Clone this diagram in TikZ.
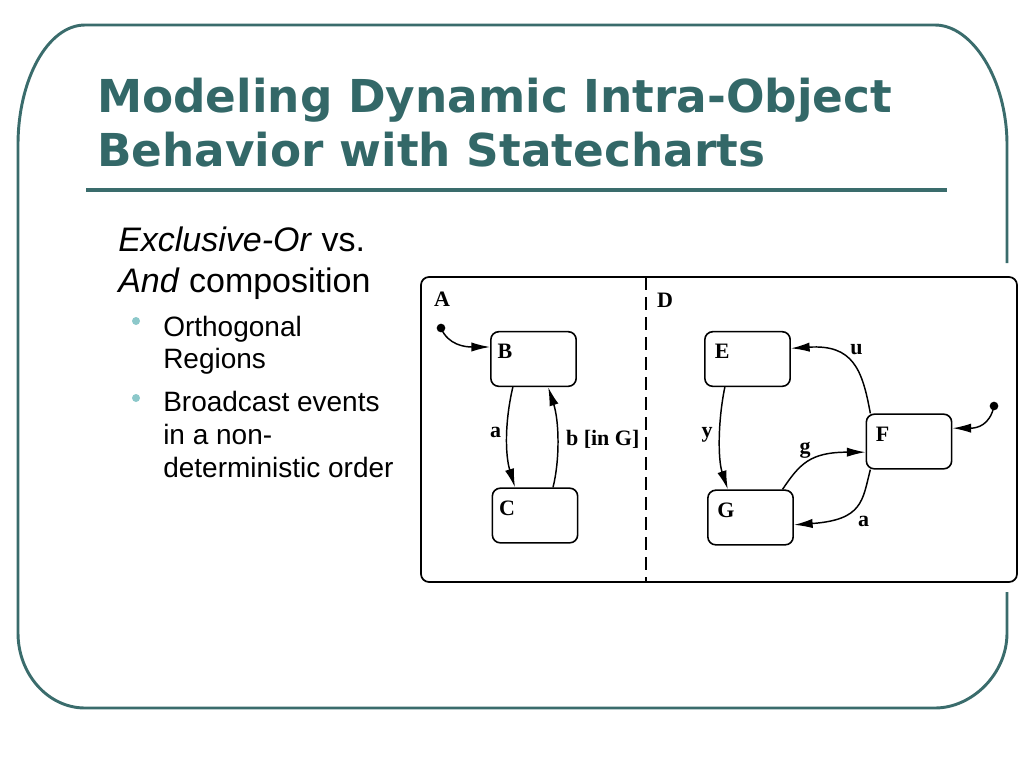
\documentclass[tikz,border=0pt]{standalone}
\usepackage{fontspec}
\setmainfont{Liberation Sans}
\newfontfamily\headfont{DejaVu Sans}
\newfontfamily\chartfont{Liberation Serif}
\usetikzlibrary{arrows.meta,positioning}
\definecolor{frameteal}{HTML}{3A6C6C}
\definecolor{titleteal}{HTML}{336868}
\definecolor{bulletteal}{HTML}{8CC8CA}
\tikzset{
  heading/.style={anchor=base west,inner sep=0pt,text=titleteal,
    font=\headfont\bfseries\fontsize{34}{40}\selectfont},
  bodytext/.style={anchor=base west,inner sep=0pt,font=\fontsize{25.5}{30}\selectfont},
  bullettext/.style={anchor=base west,inner sep=0pt,font=\fontsize{21}{25}\selectfont},
  bulletdot/.style={circle,fill=bulletteal,inner sep=0pt,minimum size=6pt},
  tlabel/.style={inner sep=0pt,font=\chartfont\bfseries\fontsize{16.5}{18}\selectfont},
  stateblock/.style={draw,line width=1.2pt,rounded corners=6pt,inner sep=0pt,
    minimum width=64pt,minimum height=41pt},
  statename/.style={tlabel,anchor=north west,xshift=#1,yshift=-10pt},
  initdot/.style={circle,fill,inner sep=0pt,minimum size=6.5pt},
  trans/.style={-{Latex[length=14pt,width=7pt]},line width=1.1pt}}

\begin{document}
\begin{tikzpicture}[x=0.75pt,y=-0.75pt]
\useasboundingbox (0,0) rectangle (1024,768);
% slide frame, open where the chart covers it
\draw[frameteal,line width=2.2pt] (1007,263) -- (1007,145)
  .. controls (1007,79) and (972,25) .. (935,25) -- (85,25)
  .. controls (48,25) and (18,79) .. (18,145) -- (18,633)
  .. controls (18,674) and (48,708) .. (85,708) -- (935,708)
  .. controls (972,708) and (1007,674) .. (1007,633) -- (1007,592);
\node[heading] (title1) at (97,112) {Modeling Dynamic Intra-Object};
\node[heading] (title2) at (97,166) {Behavior with Statecharts};
\draw[frameteal,line width=3pt] (86,190) -- (947,190);
% text column
\node[bodytext] (intro1) at (118,251) {\textit{Exclusive-Or} vs.};
\node[bodytext] (intro2) at (118,292) {\textit{And} composition};
\node[bulletdot] (dot1) at (136,321) {};
\node[bulletdot] (dot2) at (136,398) {};
\foreach \y/\txt in {336/Orthogonal,368/Regions,411/Broadcast events,
  444/in a non-,477/deterministic order}
  \node[bullettext] (line\y) at (163,\y) {\txt};
% statechart
\draw[line width=1.3pt,rounded corners=6pt] (421,277) rectangle (1017,582);
\draw[line width=1.3pt,dash pattern=on 9.5pt off 5.5pt] (646,277) -- (646,582);
\node[tlabel] (nameA) at (442,299) {A};
\node[tlabel] (nameD) at (665,300) {D};
\node[stateblock,label={[statename=5.5pt]north west:B}] (b) at (533.5,359) {};
\node[stateblock,label={[statename=5.5pt]north west:C}] (c) at (535,515.5) {};
\node[stateblock,label={[statename=8pt]north west:E}] (e) at (747.5,359) {};
\node[stateblock,label={[statename=7.5pt]north west:G}] (g) at (750.5,517.5) {};
\node[stateblock,label={[statename=7.5pt]north west:F}] (f) at (909,441.5) {};
\node[initdot] (initA) at (441,328) {};
\node[initdot] (initD) at (994,406) {};
% transitions
\draw[trans] (initA.center) .. controls +(7,17) and +(-25,0) .. ([yshift=9pt]b.west);
\draw[trans] ([xshift=-15.5pt]b.south) .. controls +(-8,34) and +(-10,-33) .. ([xshift=-15pt]c.north)
  node[tlabel,pos=.45,left=4pt] (evA) {a};
\draw[trans] ([xshift=13.5pt]c.north) .. controls +(7,-28) and +(11,34) .. ([xshift=11pt]b.south)
  node[tlabel,pos=.5,right=6pt] (evB) {b [in G]};
\draw[trans] ([xshift=-29pt]f.north) .. controls +(-8,-44) and +(62,-4) .. ([yshift=8pt]e.east)
  node[tlabel,pos=.62,above right=0pt and 6pt] (evU) {u};
\draw[trans] ([xshift=-17pt]e.south) .. controls +(-7,34) and +(-10,-30) .. ([xshift=-17pt]g.north)
  node[tlabel,pos=.45,left=5pt] (evY) {y};
\draw[trans] ([xshift=24pt]g.north) .. controls +(17,-25) and +(-56,0) .. ([yshift=-8pt]f.west)
  node[tlabel,pos=.45,above left=3pt and -4pt] (evG) {g};
\draw[trans] ([xshift=-29pt]f.south) .. controls +(-8,31) and +(69,-5) .. ([yshift=-5.5pt]g.east)
  node[tlabel,pos=.62,below right=2pt and 8pt] (evA2) {a};
\draw[trans] (initD.center) .. controls +(-4,19) and +(25,0) .. ([yshift=10pt]f.east);
\end{tikzpicture}
\end{document}
